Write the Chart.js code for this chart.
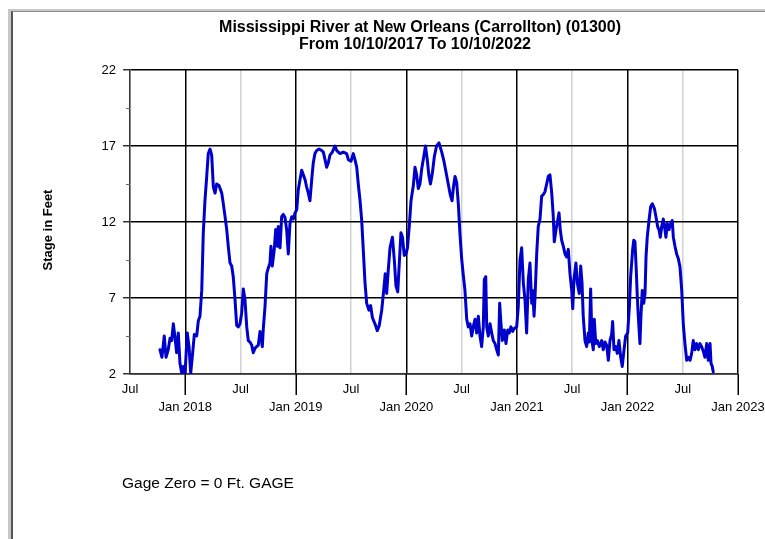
<!DOCTYPE html>
<html><head><meta charset="utf-8">
<script src="https://cdn.jsdelivr.net/npm/chart.js@4"></script>
<style>
html,body{margin:0;padding:0;background:#fff;width:765px;height:539px;overflow:hidden;}
#frameOuter{position:absolute;left:8px;top:9px;width:757px;height:530px;border-left:3px solid #c8c8c8;border-top:2px solid #c8c8c8;}
#frameInner{position:absolute;left:11px;top:11px;width:754px;height:528px;border-left:2px solid #555;border-top:1px solid #8a8a8a;}
#wrap{position:absolute;left:0;top:0;width:765px;height:539px;}
</style></head><body>
<div id="frameOuter"></div><div id="frameInner"></div>
<div id="wrap"><canvas id="c"></canvas></div>
<script>
const chartTitle = ['Mississippi River at New Orleans (Carrollton) (01300)', 'From 10/10/2017 To 10/10/2022'];
const yAxisTitle = 'Stage in Feet';
const footNote = 'Gage Zero = 0 Ft. GAGE';
const monthNames = {0: 'Jan', 0.5: 'Jul'};
const yMajorLabels = [2, 7, 12, 17, 22];

// time position in decimal years
const yearPos = [
2017.771,2017.789,2017.810,2017.826,2017.846,2017.862,2017.877,2017.892,2017.907,2017.922,2017.937,2017.952,2017.968,2017.982,2017.998,
2018.018,2018.034,2018.049,2018.067,2018.082,2018.103,2018.118,2018.133,2018.149,2018.163,2018.178,2018.194,2018.208,2018.224,2018.239,
2018.254,2018.269,2018.284,2018.305,2018.330,2018.344,2018.359,2018.375,2018.389,2018.405,2018.420,2018.434,2018.450,2018.465,2018.480,
2018.495,2018.510,2018.525,2018.540,2018.556,2018.570,2018.585,2018.601,2018.615,2018.631,2018.646,2018.661,2018.676,2018.690,2018.697,
2018.706,2018.721,2018.737,2018.748,2018.766,2018.775,2018.787,2018.805,2018.818,2018.832,2018.841,2018.857,2018.872,2018.887,2018.902,
2018.917,2018.932,2018.947,2018.963,2018.977,2018.993,2019.008,2019.022,2019.038,2019.053,2019.068,2019.083,2019.098,2019.113,2019.128,
2019.144,2019.158,2019.173,2019.189,2019.210,2019.234,2019.249,2019.264,2019.279,2019.294,2019.309,2019.330,2019.354,2019.370,2019.400,
2019.429,2019.460,2019.475,2019.499,2019.520,2019.535,2019.551,2019.565,2019.581,2019.596,2019.610,2019.626,2019.641,2019.662,2019.677,
2019.693,2019.716,2019.737,2019.755,2019.777,2019.791,2019.809,2019.822,2019.836,2019.852,2019.874,2019.891,2019.906,2019.922,2019.936,
2019.951,2019.965,2019.981,2019.997,2020.010,2020.027,2020.042,2020.063,2020.078,2020.093,2020.108,2020.123,2020.139,2020.155,2020.173,
2020.189,2020.203,2020.218,2020.235,2020.253,2020.273,2020.295,2020.320,2020.340,2020.358,2020.379,2020.397,2020.413,2020.426,2020.440,
2020.455,2020.470,2020.485,2020.500,2020.515,2020.530,2020.546,2020.560,2020.576,2020.591,2020.605,2020.621,2020.636,2020.651,2020.666,
2020.681,2020.696,2020.705,2020.718,2020.727,2020.741,2020.757,2020.772,2020.786,2020.802,2020.817,2020.832,2020.844,2020.856,2020.868,
2020.886,2020.901,2020.917,2020.931,2020.946,2020.962,2020.976,2020.998,2021.012,2021.028,2021.043,2021.058,2021.073,2021.088,2021.103,
2021.118,2021.134,2021.143,2021.155,2021.164,2021.179,2021.193,2021.209,2021.224,2021.239,2021.254,2021.269,2021.284,2021.299,2021.315,
2021.329,2021.338,2021.354,2021.369,2021.381,2021.392,2021.405,2021.420,2021.435,2021.450,2021.465,2021.480,2021.496,2021.505,2021.516,
2021.534,2021.546,2021.564,2021.577,2021.589,2021.600,2021.616,2021.631,2021.646,2021.655,2021.667,2021.679,2021.691,2021.700,2021.713,
2021.727,2021.745,2021.767,2021.781,2021.797,2021.812,2021.827,2021.842,2021.857,2021.866,2021.878,2021.894,2021.908,2021.923,2021.939,
2021.953,2021.969,2021.984,2022.002,2022.017,2022.029,2022.047,2022.057,2022.068,2022.080,2022.089,2022.098,2022.113,2022.122,2022.134,
2022.147,2022.159,2022.168,2022.179,2022.195,2022.210,2022.225,2022.243,2022.258,2022.273,2022.285,2022.297,2022.310,2022.324,2022.339,
2022.348,2022.360,2022.376,2022.391,2022.405,2022.415,2022.430,2022.445,2022.460,2022.475,2022.491,2022.505,2022.520,2022.536,2022.550,
2022.566,2022.581,2022.595,2022.611,2022.626,2022.641,2022.656,2022.671,2022.686,2022.701,2022.717,2022.731,2022.747,2022.756,2022.767,
2022.776
];

// river stage in feet
const stageFt = [
3.6,3.1,4.5,3.1,3.6,4.35,4.2,5.3,4.4,3.4,4.7,2.7,2.05,2.5,2.05,
4.7,3.8,2.05,3.4,4.6,4.5,5.5,5.8,7.5,11.3,13.4,15.0,16.5,16.8,16.4,
14.3,13.9,14.5,14.4,13.9,13.2,12.4,11.5,10.4,9.3,9.1,8.4,6.9,5.2,5.1,
5.3,6.0,7.6,6.9,5.1,4.2,4.1,3.9,3.4,3.7,3.8,3.9,4.8,4.2,3.8,
5.0,6.4,8.6,8.9,9.3,10.4,9.1,10.2,11.5,10.4,11.7,10.3,12.35,12.5,12.3,
11.5,9.9,11.9,12.35,12.2,12.6,12.8,14.1,14.8,15.4,15.1,14.8,14.3,13.9,13.4,
14.8,15.9,16.5,16.7,16.8,16.7,16.6,16.1,15.6,15.9,16.4,16.6,17.0,16.7,16.5,
16.6,16.5,16.1,16.0,16.5,16.1,15.6,14.5,13.4,12.1,10.2,8.0,6.65,6.2,6.5,
5.7,5.3,4.85,5.2,6.2,7.2,8.6,7.3,8.8,10.3,11.0,9.5,7.8,7.4,9.3,
11.3,11.0,9.8,9.9,10.3,11.8,13.4,14.4,15.6,15.1,14.2,14.5,15.5,16.2,17.0,
16.1,15.1,14.5,15.2,16.3,17.0,17.2,16.6,16.0,15.3,14.5,13.8,13.4,14.3,15.0,
14.6,13.2,11.2,9.6,8.5,7.5,5.6,5.1,5.3,4.5,5.1,5.6,4.7,5.8,4.5,
3.8,5.1,8.2,8.4,5.1,4.5,5.3,4.7,4.2,4.0,3.6,3.25,6.65,5.3,4.2,
4.9,4.0,4.9,4.7,5.1,4.8,5.0,5.1,6.4,9.5,10.3,8.0,6.9,4.7,8.2,
9.3,6.65,7.5,5.8,7.1,9.9,11.7,12.2,13.7,13.8,14.0,14.5,15.0,15.1,13.9,
12.35,10.7,11.5,12.1,12.6,11.5,10.8,10.4,9.9,9.7,10.2,8.6,7.5,6.3,8.2,
9.3,8.0,7.3,9.1,8.0,5.8,4.2,3.8,4.7,4.1,7.6,4.2,3.6,5.6,4.0,
4.2,3.8,4.2,3.6,4.1,3.9,2.9,4.2,4.6,5.45,3.6,3.8,3.36,4.2,3.1,
2.5,3.6,4.5,4.7,6.4,8.4,10.2,10.8,10.7,8.8,7.1,5.8,4.0,5.8,7.5,
6.65,7.3,9.7,11.0,12.1,13.0,13.2,12.9,12.35,11.7,11.5,11.0,11.7,12.2,11.5,
11.0,11.9,11.5,11.9,12.1,11.0,10.4,9.9,9.6,9.06,7.5,5.3,4.0,2.9,3.1,
2.9,3.36,4.2,3.6,4.0,3.6,4.0,3.8,3.5,3.1,4.0,2.9,4.0,2.7,2.5,
2.15
];

const FONT = '"Liberation Sans", Arial, Helvetica, sans-serif';
Chart.defaults.font.family = FONT;
Chart.defaults.color = '#000';

const isJan = v => Math.abs(v - Math.round(v)) < 1e-6;
const isMajorY = v => yMajorLabels.some(m => Math.abs(m - v) < 1e-6);

const decor = {
  id: 'decor',
  afterDraw(chart) {
    const {ctx, chartArea: a, scales: {x, y}} = chart;
    ctx.save();
    ctx.strokeStyle = '#000';
    ctx.lineWidth = 1.5;
    x.ticks.forEach(t => {
      if (isJan(t.value)) {
        const px = Math.round(x.getPixelForValue(t.value)) + 0.25;
        ctx.beginPath(); ctx.moveTo(px, a.bottom); ctx.lineTo(px, a.bottom + 21); ctx.stroke();
      }
    });
    ctx.lineWidth = 1;
    ctx.strokeStyle = '#666';
    y.ticks.forEach(t => {
      if (!isMajorY(t.value)) {
        const py = Math.round(y.getPixelForValue(t.value)) + 0.5;
        ctx.beginPath(); ctx.moveTo(a.left - 4, py); ctx.lineTo(a.left, py); ctx.stroke();
      }
    });
    ctx.fillStyle = '#000';
    ctx.textAlign = 'center';
    ctx.textBaseline = 'middle';
    ctx.font = 'bold 16px ' + FONT;
    ctx.fillText(chartTitle[0], 420, 28);
    ctx.fillText(chartTitle[1], 415, 45);
    ctx.save();
    ctx.translate(48, 230);
    ctx.rotate(-Math.PI / 2);
    ctx.font = 'bold 13px ' + FONT;
    ctx.fillText(yAxisTitle, 0, 0);
    ctx.restore();
    ctx.textAlign = 'left';
    ctx.font = '15.5px ' + FONT;
    ctx.fillText(footNote, 122, 484);
    ctx.restore();
  }
};

new Chart(document.getElementById('c'), {
  type: 'line',
  data: {
    datasets: [{
      data: yearPos.map((t, i) => ({x: t, y: stageFt[i]})),
      borderColor: '#0000cc',
      borderWidth: 3,
      borderJoinStyle: 'round',
      borderCapStyle: 'round',
      pointRadius: 0,
      tension: 0,
      fill: false
    }]
  },
  options: {
    responsive: true,
    maintainAspectRatio: false,
    animation: false,
    events: [],
    layout: {padding: {left: 0, top: 70, right: 27, bottom: 0}},
    plugins: {legend: {display: false}, title: {display: false}, tooltip: {enabled: false}},
    scales: {
      x: {
        type: 'linear',
        min: 2017.5, max: 2023,
        afterFit(s) { s.height = 165; s.paddingLeft = 0; s.paddingRight = 0; },
        ticks: {
          stepSize: 0.5, maxTicksLimit: 100, autoSkip: false, maxRotation: 0, minRotation: 0,
          padding: 6,
          font: {size: 13, lineHeight: 1.41},
          color: '#000',
          callback: v => isJan(v) ? ['', monthNames[0] + ' ' + Math.round(v)] : monthNames[0.5]
        },
        grid: {
          drawTicks: false,
          lineWidth: 1.5,
          color: c => (c.tick && isJan(c.tick.value)) ? '#000' : '#d2d2d2'
        },
        border: {display: true, color: '#333', width: 1.5}
      },
      y: {
        min: 2, max: 22,
        afterFit(s) { s.width = 130; },
        ticks: {
          stepSize: 2.5, maxTicksLimit: 100, padding: 7,
          font: {size: 13},
          color: '#000',
          callback: v => isMajorY(v) ? String(v) : ''
        },
        grid: {
          drawTicks: true,
          tickLength: 7,
          lineWidth: 1.5,
          color: c => (c.tick && isMajorY(c.tick.value)) ? '#000' : 'rgba(0,0,0,0)',
          tickColor: c => (c.tick && isMajorY(c.tick.value)) ? '#333' : 'rgba(0,0,0,0)'
        },
        border: {display: true, color: '#333', width: 1.5}
      }
    }
  },
  plugins: [decor]
});
</script>
</body></html>
